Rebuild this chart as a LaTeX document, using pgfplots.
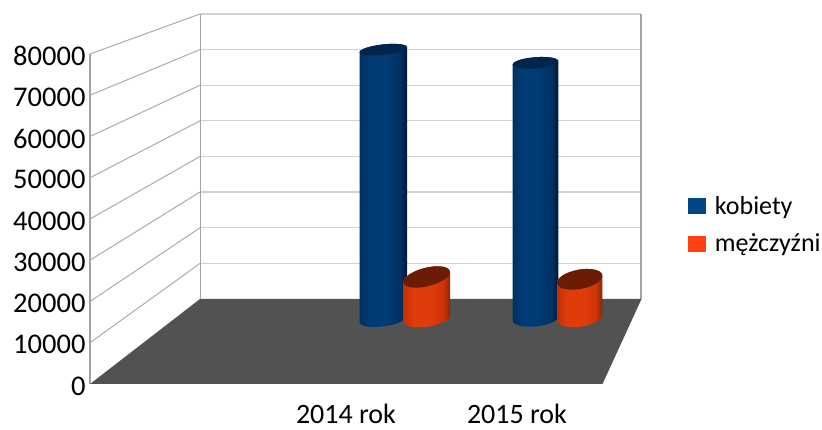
\documentclass[border=0pt]{standalone}
\usepackage{fontspec}
\setmainfont{Carlito}
\usepackage{pgfplots}
\usepackage{pgfplotstable}
\pgfplotsset{compat=1.18}

\definecolor{legblue}{HTML}{004586}
\definecolor{legorange}{HTML}{FF420E}
\definecolor{topblue}{HTML}{00254D}
\definecolor{toporange}{HTML}{6B1C04}
\definecolor{floorgrey}{HTML}{525252}
\definecolor{backgrid}{HTML}{D2D2D2}
\definecolor{sidegrid}{HTML}{ABABAB}
\definecolor{edgegrey}{HTML}{A3A3A3}

\pgfdeclarehorizontalshading{barblue}{100bp}{
	rgb(0bp)=(0,0.19,0.37); rgb(25bp)=(0,0.19,0.37); rgb(36bp)=(0,0.23,0.46);
	rgb(55bp)=(0,0.23,0.46); rgb(68bp)=(0,0.19,0.38); rgb(75bp)=(0,0.10,0.22); rgb(100bp)=(0,0.10,0.22)}
\pgfdeclarehorizontalshading{barorange}{100bp}{
	rgb(0bp)=(0.75,0.19,0.03); rgb(25bp)=(0.75,0.19,0.03); rgb(36bp)=(0.88,0.23,0.04);
	rgb(55bp)=(0.88,0.23,0.04); rgb(68bp)=(0.80,0.20,0.03); rgb(75bp)=(0.55,0.14,0.02); rgb(100bp)=(0.55,0.14,0.02)}

% unit ellipse, lower half on the foot (e=0), upper half on the head (e=1)
\pgfplotstableread{
c s e
-1 0 0
-0.966 -0.259 0
-0.866 -0.5 0
-0.707 -0.707 0
-0.5 -0.866 0
-0.259 -0.966 0
0 -1 0
0.259 -0.966 0
0.5 -0.866 0
0.707 -0.707 0
0.866 -0.5 0
0.966 -0.259 0
1 0 0
1 0 1
0.966 0.259 1
0.866 0.5 1
0.707 0.707 1
0.5 0.866 1
0.259 0.966 1
0 1 1
-0.259 0.966 1
-0.5 0.866 1
-0.707 0.707 1
-0.866 0.5 1
-0.966 0.259 1
-1 0 1
}\bodytable
\pgfplotstableread{
c s
1 0
0.966 0.259
0.866 0.5
0.707 0.707
0.5 0.866
0.259 0.966
0 1
-0.259 0.966
-0.5 0.866
-0.707 0.707
-0.866 0.5
-0.966 0.259
-1 0
-0.966 -0.259
-0.866 -0.5
-0.707 -0.707
-0.5 -0.866
-0.259 -0.966
0 -1
0.259 -0.966
0.5 -0.866
0.707 -0.707
0.866 -0.5
0.966 -0.259
}\ringtable

% name, centre x, half width, top, top tilt, top squash, foot, foot tilt, foot squash
\newcommand{\cyl}[9]{
	\addplot[forget plot, draw=none, shading=bar#1] table[
		x expr={#2+#3*\thisrow{c}},
		y expr={\thisrow{e}*(#4+242.42*(#5*\thisrow{c}+#6*\thisrow{s}))+(1-\thisrow{e})*(#7+242.42*(#8*\thisrow{c}+#9*\thisrow{s}))},
	] {\bodytable} -- cycle;
	\addplot[forget plot, draw=none, fill=top#1] table[
		x expr={#2+#3*\thisrow{c}},
		y expr={#4+242.42*(#5*\thisrow{c}+#6*\thisrow{s})},
	] {\ringtable} -- cycle;
}

\begin{document}
\begin{tikzpicture}
	\path[use as bounding box] (-90pt,-46pt) rectangle (732pt,384pt);
	\begin{axis}[
		scale only axis,
		width=551pt, height=370pt,
		at={(0pt,0pt)}, anchor=south west,
		xmin=90, xmax=641,
		ymin=0, ymax=89697,
		clip=false,
		unbounded coords=jump,
		axis line style={draw=none},
		major tick length=0pt,
		ytick={0,10000,20000,30000,40000,50000,60000,70000,80000},
		xtick={346,517},
		xticklabels={2014 rok,2015 rok},
		scaled y ticks=false,
		/pgf/number format/assume math mode=true,
		/pgf/number format/1000 sep={},
		ticklabel style={text=black},
		yticklabel style={font=\fontsize{28.5}{31}\selectfont, yshift=-2pt, xshift=-1pt},
		xticklabel style={font=\fontsize{28}{31}\selectfont, inner sep=0pt, yshift=-20pt},
		legend style={
			at={(1.085,0.43)}, anchor=west,
			draw=none, fill=none, inner sep=0pt,
			font=\fontsize{26}{28}\selectfont,
			/tikz/row sep=14pt,
			/tikz/column 1/.style={column sep=8pt},
		},
		legend cell align=left,
		legend image code/.code={\fill[#1] (0pt,-7.5pt) rectangle (16.5pt,7.5pt);},
	]
	% side wall grid
	\addplot[forget plot, sidegrid, line width=1pt] coordinates {
		(90,10000) (200,29236) (nan,nan)
		(90,20000) (200,37867) (nan,nan)
		(90,30000) (200,46545) (nan,nan)
		(90,40000) (200,55151) (nan,nan)
		(90,50000) (200,63782) (nan,nan)
		(90,60000) (200,72436) (nan,nan)
		(90,70000) (200,81067) (nan,nan)
		(90,80000) (200,89697)
	};
	% back wall grid
	\addplot[forget plot, backgrid, line width=1.2pt] coordinates {
		(200,29236) (641,29236) (nan,nan)
		(200,37867) (641,37867) (nan,nan)
		(200,46545) (641,46545) (nan,nan)
		(200,55151) (641,55151) (nan,nan)
		(200,63782) (641,63782) (nan,nan)
		(200,72436) (641,72436) (nan,nan)
		(200,81067) (641,81067) (nan,nan)
		(200,89697) (641,89697)
	};
	% wall edges
	\addplot[forget plot, edgegrey, line width=1.5pt] coordinates {(90,0) (90,80000)};
	\addplot[forget plot, edgegrey, line width=1.5pt] coordinates {(200.5,20606) (200.5,89697)};
	\addplot[forget plot, edgegrey, line width=1.5pt] coordinates {(641,20606) (641,89697)};
	% floor
	\addplot[forget plot, draw=none, fill=floorgrey] coordinates {
		(90,0) (200,20606) (641.5,20606) (602.5,0)
	} -- cycle;
	% bars
	\cyl{blue}{383.25}{23.75}{81042}{2.5}{5.3}{15757}{3}{7.4}
	\cyl{orange}{426.7}{23.3}{25939}{5}{9.5}{15757}{3}{7.7}
	\cyl{blue}{535.5}{22.8}{77865}{1.7}{5.6}{15879}{2}{8}
	\cyl{orange}{579.7}{22.7}{25381}{3.5}{9.8}{16000}{2.9}{8.8}
	% legend
	\addlegendimage{legblue}
	\addlegendentry{kobiety}
	\addlegendimage{legorange}
	\addlegendentry{mężczyźni}
	\end{axis}
\end{tikzpicture}
\end{document}
